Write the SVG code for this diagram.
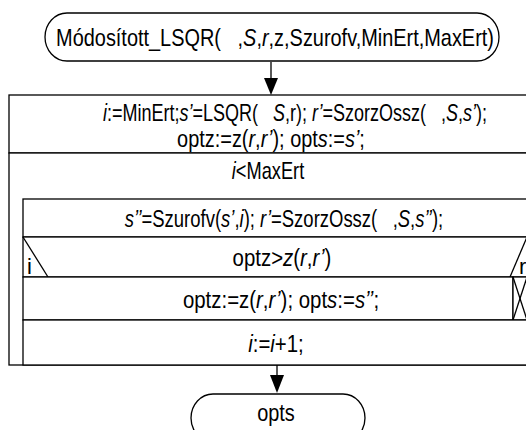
<svg xmlns="http://www.w3.org/2000/svg" width="526" height="430" viewBox="0 0 526 430">
<style>
text{font-family:"Liberation Sans",Arial,sans-serif;font-size:24px;fill:#000;white-space:pre;text-anchor:middle}
.i{font-style:italic}
.ln{stroke:#000;stroke-width:1.3;fill:none}
.box{stroke:#000;stroke-width:1.3;fill:#fff}
.lbl{font-size:22px;text-anchor:start}
</style>
<rect width="526" height="430" fill="#fff"/>
<g id="connectors">
<line class="ln" x1="271" y1="62" x2="271" y2="80"/>
<polygon points="264,78 278,78 271,95" fill="#000"/>
<line class="ln" x1="277" y1="365" x2="277" y2="376"/>
<polygon points="270,375 284,375 277,393" fill="#000"/>
</g>
<g id="start">
<rect class="box" x="45" y="13" width="454" height="48" rx="22" ry="24"/>
<text transform="translate(275,46) scale(0.83,1)">Módosított_LSQR(   ,<tspan class="i">S</tspan>,<tspan class="i">r</tspan>,z,Szurofv,MinErt,MaxErt)</text>
</g>
<g id="init">
<rect class="box" x="9" y="95" width="530" height="58"/>
<text transform="translate(295,121) scale(0.75,1)"><tspan class="i">i</tspan>:=MinErt;<tspan class="i">s’</tspan>=LSQR(   <tspan class="i">S</tspan>,r); <tspan class="i">r’</tspan>=SzorzOssz(   ,<tspan class="i">S</tspan>,<tspan class="i">s’</tspan>);</text>
<text transform="translate(271,147) scale(0.83,1)">optz:=z(<tspan class="i">r</tspan>,<tspan class="i">r’</tspan>); opt<tspan class="i">s</tspan>:=<tspan class="i">s’</tspan>;</text>
</g>
<g id="loop">
<rect class="box" x="9" y="153" width="530" height="212"/>
<text transform="translate(268,179) scale(0.76,1)"><tspan class="i">i</tspan>&lt;MaxErt</text>
</g>
<g id="body1">
<rect class="box" x="23" y="199" width="504" height="38"/>
<text transform="translate(284,227) scale(0.77,1)"><tspan class="i">s’’</tspan>=Szurofv(<tspan class="i">s’</tspan>,<tspan class="i">i</tspan>); <tspan class="i">r’</tspan>=SzorzOssz(   ,<tspan class="i">S</tspan>,<tspan class="i">s’’</tspan>);</text>
</g>
<g id="cond">
<rect class="box" x="23" y="237" width="504" height="40"/>
<line class="ln" x1="23" y1="237" x2="48" y2="277"/>
<line class="ln" x1="510" y1="277" x2="527" y2="237"/>
<text transform="translate(282,266) scale(0.85,1)">optz&gt;<tspan class="i">z</tspan>(<tspan class="i">r</tspan>,<tspan class="i">r’</tspan>)</text>
<text class="lbl" x="27" y="274">i</text>
<text class="lbl" x="519" y="274">r</text>
</g>
<g id="then">
<rect class="box" x="23" y="277" width="490" height="43"/>
<text transform="translate(281,308) scale(0.85,1)">optz:=z(<tspan class="i">r</tspan>,<tspan class="i">r’</tspan>); opt<tspan class="i">s</tspan>:=<tspan class="i">s’’</tspan>;</text>
</g>
<g id="else">
<rect class="box" x="513" y="277" width="14" height="43"/>
<line class="ln" x1="513" y1="277" x2="527" y2="320"/>
<line class="ln" x1="513" y1="320" x2="527" y2="277"/>
</g>
<g id="incr">
<rect class="box" x="23" y="320" width="504" height="45"/>
<text transform="translate(276,352) scale(0.85,1)"><tspan class="i">i</tspan>:=<tspan class="i">i</tspan>+1;</text>
</g>
<g id="end">
<rect class="box" x="191" y="394" width="174" height="48" rx="22" ry="24"/>
<text transform="translate(276,421) scale(0.83,1)">opts</text>
</g>
</svg>
